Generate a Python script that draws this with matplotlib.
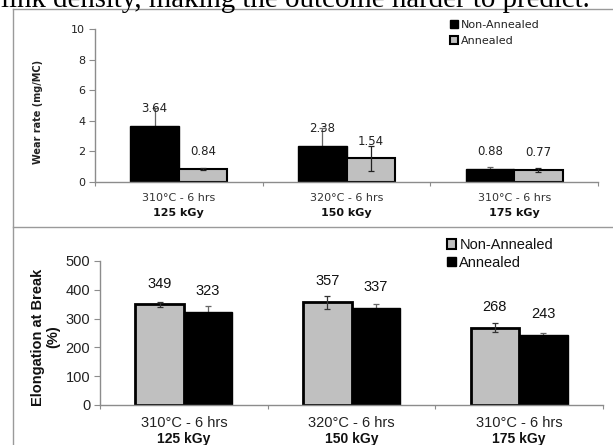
import matplotlib
matplotlib.use("Agg")
import matplotlib.pyplot as plt
from matplotlib.patches import Patch
from matplotlib.lines import Line2D
import numpy as np

# ---------------- data ----------------
temps = ["310°C - 6 hrs", "320°C - 6 hrs", "310°C - 6 hrs"]
doses = ["125 kGy", "150 kGy", "175 kGy"]

wear_non = [3.64, 2.38, 0.88]
wear_ann = [0.84, 1.54, 0.77]
wear_non_err = [1.2, 1.15, 0.10]
wear_ann_err = [0.05, 0.80, 0.12]

elong_non = [349, 357, 268]
elong_ann = [323, 337, 243]
elong_non_err = [10, 22, 16]
elong_ann_err = [22, 15, 8]

series_labels = ["Non-Annealed", "Annealed"]
caption = "link density, making the outcome harder to predict."

# ---------------- figure ----------------
W, H = 613, 445
DPI = 100
fig = plt.figure(figsize=(W / DPI, H / DPI), dpi=DPI)

def fx(px):
    return px / W

def fy(py):
    return 1 - py / H

GRAY_SPINE = "#8c8c8c"
FRAME = "#9a9a9a"
LIGHT = "#c0c0c0"

# panel frames
fig.add_artist(Line2D([fx(13), 1.0], [fy(9), fy(9)], color=FRAME, lw=1.0))
fig.add_artist(Line2D([fx(13), fx(13)], [fy(9), 0.0], color=FRAME, lw=1.0))
fig.add_artist(Line2D([fx(13), 1.0], [fy(227), fy(227)], color=FRAME, lw=1.0))

# caption text at top (partially clipped)
cap = fig.text(fx(1), fy(7), caption, family="Liberation Serif",
               fontsize=16, ha="left", va="baseline", color="black")
fig.canvas.draw()
bb = cap.get_window_extent()
target = 590 - 1
cap.set_fontsize(16 * target / bb.width)

x = np.arange(len(doses))
bw = 0.29


def style_axes(ax, ymax, yticks, tick_fs, tick_family):
    ax.set_xlim(-0.5, len(doses) - 0.5)
    ax.set_ylim(0, ymax)
    ax.set_yticks(yticks)
    for s in ["top", "right"]:
        ax.spines[s].set_visible(False)
    for s in ["left", "bottom"]:
        ax.spines[s].set_color(GRAY_SPINE)
        ax.spines[s].set_linewidth(1.0)
    ax.set_xticks(np.arange(-0.5, len(doses), 1.0))
    ax.set_xticklabels([])
    ax.tick_params(axis="x", direction="out", length=3, color=GRAY_SPINE)
    ax.tick_params(axis="y", direction="out", length=4, color=GRAY_SPINE,
                   labelsize=tick_fs, labelcolor="#222222", pad=3)
    for t in ax.get_yticklabels():
        t.set_family(tick_family)
    ax.patch.set_alpha(0)


# ---------------- top panel ----------------
ax1 = fig.add_axes([fx(95), fy(182), fx(598) - fx(95), fy(29) - fy(182)])
style_axes(ax1, 10, [0, 2, 4, 6, 8, 10], 8, "DejaVu Sans")

# black bars: error bar drawn behind the bar (lower half hidden)
ax1.errorbar(x - bw / 2, wear_non, yerr=wear_non_err, fmt="none", ecolor="#666666",
             elinewidth=0.9, capsize=2.5, capthick=0.9, zorder=1)
ax1.bar(x - bw / 2, wear_non, bw, color="black", edgecolor="black", lw=1.0, zorder=2)
ax1.bar(x + bw / 2, wear_ann, bw, color=LIGHT, edgecolor="black", lw=1.5, zorder=2)
ax1.errorbar(x + bw / 2, wear_ann, yerr=wear_ann_err, fmt="none", ecolor="#222222",
             elinewidth=0.9, capsize=2.5, capthick=0.9, zorder=3)
for xi, v in zip(x - bw / 2, wear_non):
    ax1.annotate(f"{v:.2f}", (xi, v), xytext=(0, 12.5), textcoords="offset points",
                 ha="center", va="center", fontsize=8.5, family="DejaVu Sans",
                 color="#222222", zorder=4)
for xi, v in zip(x + bw / 2, wear_ann):
    ax1.annotate(f"{v:.2f}", (xi, v), xytext=(0, 12.5), textcoords="offset points",
                 ha="center", va="center", fontsize=8.5, family="DejaVu Sans",
                 color="#222222", zorder=4)
for xi, t, d in zip(x, temps, doses):
    ax1.annotate(t, (xi, 0), xycoords=("data", "axes fraction"), xytext=(0, -11.5),
                 textcoords="offset points", ha="center", va="center",
                 fontsize=8, family="DejaVu Sans", color="#333333")
    ax1.annotate(d, (xi, 0), xycoords=("data", "axes fraction"), xytext=(0, -22.5),
                 textcoords="offset points", ha="center", va="center",
                 fontsize=8, family="DejaVu Sans", fontweight="bold", color="#111111")

fig.text(fx(38), fy(112), "Wear rate (mg/MC)", rotation=90, ha="center", va="center",
         fontsize=7, family="DejaVu Sans", fontweight="bold", color="#222222")

h1 = [Patch(facecolor="black", edgecolor="black", lw=1.0),
      Patch(facecolor=LIGHT, edgecolor="black", lw=1.5)]
leg1 = ax1.legend(h1, series_labels, loc="upper left",
                  bbox_to_anchor=(fx(450), fy(20)), bbox_transform=fig.transFigure,
                  frameon=False, borderpad=0, borderaxespad=0, handlelength=0.7,
                  handleheight=0.7, handletextpad=0.25, labelspacing=0.55,
                  prop={"family": "DejaVu Sans", "size": 8})
for t in leg1.get_texts():
    t.set_color("#222222")

# ---------------- bottom panel ----------------
ax2 = fig.add_axes([fx(100), fy(405), fx(603) - fx(100), fy(261) - fy(405)])
style_axes(ax2, 500, [0, 100, 200, 300, 400, 500], 10.5, "Liberation Sans")

ax2.bar(x - bw / 2, elong_non, bw, color=LIGHT, edgecolor="black", lw=2.0, zorder=2)
ax2.errorbar(x - bw / 2, elong_non, yerr=elong_non_err, fmt="none", ecolor="#333333",
             elinewidth=0.9, capsize=2.5, capthick=0.9, zorder=3)
ax2.errorbar(x + bw / 2, elong_ann, yerr=elong_ann_err, fmt="none", ecolor="#666666",
             elinewidth=0.9, capsize=2.5, capthick=0.9, zorder=1)
ax2.bar(x + bw / 2, elong_ann, bw, color="black", edgecolor="black", lw=1.0, zorder=2)
for xi, v in zip(x - bw / 2, elong_non):
    ax2.annotate(f"{v}", (xi, v), xytext=(0, 15), textcoords="offset points",
                 ha="center", va="center", fontsize=10.5, family="Liberation Sans",
                 color="#111111", zorder=4)
for xi, v in zip(x + bw / 2, elong_ann):
    ax2.annotate(f"{v}", (xi, v), xytext=(0, 15), textcoords="offset points",
                 ha="center", va="center", fontsize=10.5, family="Liberation Sans",
                 color="#111111", zorder=4)
for xi, t, d in zip(x, temps, doses):
    ax2.annotate(t, (xi, 0), xycoords=("data", "axes fraction"), xytext=(0, -13),
                 textcoords="offset points", ha="center", va="center",
                 fontsize=10.5, family="Liberation Sans", color="#222222")
    ax2.annotate(d, (xi, 0), xycoords=("data", "axes fraction"), xytext=(0, -24.5),
                 textcoords="offset points", ha="center", va="center",
                 fontsize=10, family="Liberation Sans", fontweight="bold", color="#111111")

fig.text(fx(46), fy(337), "Elongation at Break\n(%)", rotation=90, ha="center",
         va="center", multialignment="center", fontsize=10.5,
         family="Liberation Sans", fontweight="bold", color="#111111", linespacing=1.1)

h2 = [Patch(facecolor=LIGHT, edgecolor="black", lw=1.5),
      Patch(facecolor="black", edgecolor="black", lw=1.0)]
leg2 = ax2.legend(h2, series_labels, loc="upper left",
                  bbox_to_anchor=(fx(447), fy(238)), bbox_transform=fig.transFigure,
                  frameon=False, borderpad=0, borderaxespad=0, handlelength=0.65,
                  handleheight=0.65, handletextpad=0.2, labelspacing=0.25,
                  prop={"family": "Liberation Sans", "size": 10.5})
for t in leg2.get_texts():
    t.set_color("#111111")

fig.savefig("out.png", dpi=DPI)
